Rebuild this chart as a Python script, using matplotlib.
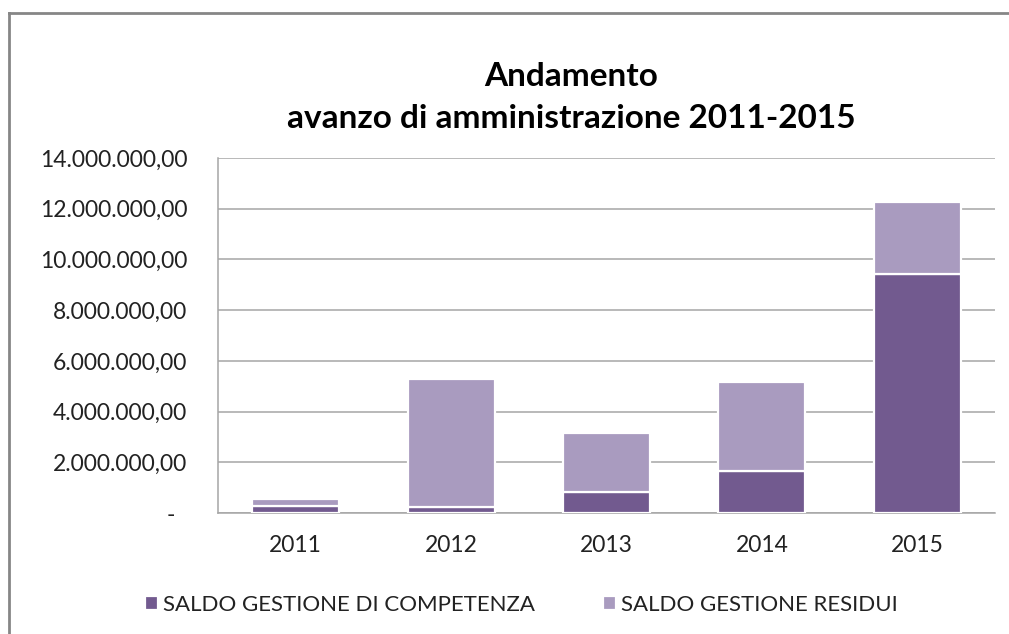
import matplotlib
matplotlib.use("Agg")
import matplotlib.pyplot as plt
from matplotlib.ticker import FuncFormatter, MultipleLocator
from matplotlib.lines import Line2D
import numpy as np

years = ["2011", "2012", "2013", "2014", "2015"]
competenza = [280000, 220000, 830000, 1670000, 9410000]
residui = [270000, 5060000, 2310000, 3500000, 2840000]
series_names = ["SALDO GESTIONE DI COMPETENZA", "SALDO GESTIONE RESIDUI"]
title_lines = ["Andamento", "avanzo di amministrazione 2011-2015"]

plt.rcParams['font.family'] = ['Lato', 'DejaVu Sans']

W, H = 1009, 634
fig = plt.figure(figsize=(W / 100, H / 100), dpi=100)
fig.patch.set_facecolor("white")

ax = fig.add_axes([218 / W, 1 - 513 / H, (995 - 218) / W, (513 - 158) / H])

dark = "#725a8f"
light = "#a99bbf"
x = np.arange(len(years))
ax.bar(x, competenza, width=0.56, color=dark, edgecolor="white", linewidth=1.6,
       label=series_names[0], zorder=3)
ax.bar(x, residui, bottom=competenza, width=0.56, color=light, edgecolor="white",
       linewidth=1.6, label=series_names[1], zorder=3)

ax.set_xlim(-0.5, len(years) - 0.5)
ax.set_ylim(0, 14000000)
ax.yaxis.set_major_locator(MultipleLocator(2000000))


def fmt(v, pos):
    if abs(v) < 1:
        return "-  "
    s = f"{v:,.2f}"
    return s.replace(",", "X").replace(".", ",").replace("X", ".")


ax.yaxis.set_major_formatter(FuncFormatter(fmt))
ax.set_xticks(x)
ax.set_xticklabels(years)
ax.grid(axis="y", color="#a6a6a6", linewidth=1.1, zorder=0)
ax.set_axisbelow(True)
for s in ["top", "right"]:
    ax.spines[s].set_visible(False)
for s in ["left", "bottom"]:
    ax.spines[s].set_color("#a6a6a6")
    ax.spines[s].set_linewidth(1.1)
ax.tick_params(axis="y", length=0, pad=22, labelsize=16.5, labelcolor="#222222")
ax.tick_params(axis="x", length=0, pad=16, labelsize=16.5, labelcolor="#222222")

fig.text(571 / W, 1 - 76 / H, title_lines[0], ha="center", va="center",
         fontsize=24, fontweight="bold", color="black")
fig.text(571 / W, 1 - 119 / H, title_lines[1], ha="center", va="center",
         fontsize=24, fontweight="bold", color="black")

leg = fig.legend(loc="center", bbox_to_anchor=(521 / W, 1 - 605 / H), ncol=2,
                 frameon=False, fontsize=16, handlelength=0.62, handleheight=0.62,
                 handletextpad=0.2, columnspacing=3.05)
for t in leg.get_texts():
    t.set_color("#222222")

# chart area border
fig.add_artist(Line2D([9 / W, 9 / W], [0, 1 - 13 / H], transform=fig.transFigure,
                      color="#868686", linewidth=2))
fig.add_artist(Line2D([9 / W, 1], [1 - 13 / H, 1 - 13 / H], transform=fig.transFigure,
                      color="#868686", linewidth=2))

fig.savefig("out.png", dpi=100)
